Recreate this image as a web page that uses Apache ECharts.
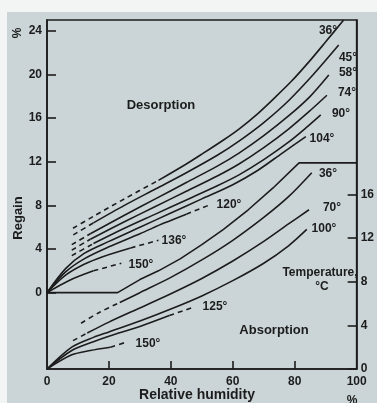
<!DOCTYPE html>
<html><head><meta charset="utf-8">
<script src="https://cdn.jsdelivr.net/npm/echarts@6/dist/echarts.min.js"></script>
<style>
html,body{margin:0;padding:0;background:#f3f5f4;width:377px;height:403px;overflow:hidden}
#c{position:absolute;left:7px;top:12px;width:370px;height:391px;background:#cbd5d8}
</style></head><body><div id="c"></div>
<script>
// ---- axes ----
const xTicks = [0, 20, 40, 60, 80, 100];
const leftTicks = [0, 4, 8, 12, 16, 20, 24];      // regain %, desorption scale
const rightTicks = [0, 4, 8, 12, 16];             // regain %, absorption scale

// ---- desorption curves [relative humidity %, regain %] ----
const des36Dashed  = [[8.4,5.9],[15,7.0],[25,8.6],[36,10.3]];
const des36Solid   = [[36,10.3],[45,11.8],[50,12.7],[57,14.0],[62,15.0],[68,16.4],[74,18.0],[79,19.4],[85,21.3],[90,23.0],[95.8,25.0]];
const des45Dashed  = [[8.5,5.3],[15,6.4]];
const des45Solid   = [[15,6.4],[25,8.0],[35,9.5],[45,11.0],[55,12.6],[62,13.9],[70,15.6],[78,17.6],[86,20.0],[94.2,22.7]];
const des58Dashed  = [[8,4.4],[14,5.4]];
const des58Solid   = [[14,5.4],[25,7.1],[35,8.6],[45,10.1],[55,11.6],[62,12.8],[70,14.4],[78,16.2],[85,18.0],[91,19.95]];
const des74Dashed  = [[8,3.9],[14,4.9]];
const des74Solid   = [[14,4.9],[25,6.5],[35,7.9],[45,9.3],[55,10.7],[62,11.8],[70,13.3],[78,15.0],[85,16.7],[90.4,18.1]];
const des90Dashed  = [[8,3.4],[15,4.5]];
const des90Solid   = [[15,4.5],[25,5.9],[35,7.2],[45,8.5],[55,9.8],[62,10.8],[70,12.2],[78,13.8],[84,15.2],[88.4,16.3]];
const des104Solid  = [[0,0],[6,2.2],[12,3.6],[20,4.7],[30,6.0],[40,7.3],[50,8.6],[60,9.9],[68,11.2],[76,12.8],[83.6,14.3]];
const des120Solid  = [[0,0],[6,1.9],[12,3.1],[20,4.2],[30,5.4],[38,6.4],[45,7.2]];
const des120Dashed = [[45,7.2],[53,8.1]];
const des136Solid  = [[0,0],[6,1.6],[12,2.6],[18,3.3],[27,4.1]];
const des136Dashed = [[27,4.1],[36,4.8]];
const des150Solid  = [[0,0],[7,1.1],[15,2.0]];
const des150Dashed = [[15,2.0],[24,2.7]];

// ---- boundary between the two diagrams (desorption scale) ----
const boundary = [[0,0],[22.8,0],[30,1.2],[36,2.0],[43,3.1],[50,4.4],[57,5.8],[65,7.6],[73,9.6],[81.4,11.9],[100,11.9]];

// ---- absorption curves [relative humidity %, regain %] (right scale) ----
const abs36Dashed  = [[11,4.2],[17,5.2],[23.5,6.1]];
const abs36Solid   = [[23.5,6.1],[30,7.0],[40,8.4],[50,10.0],[60,11.8],[70,13.9],[78,15.8],[85.5,18.0]];
const abs70Dashed  = [[8.4,2.6],[13,3.3]];
const abs70Solid   = [[13,3.3],[20,4.3],[30,5.6],[40,6.9],[50,8.3],[60,9.9],[70,11.7],[78,13.3],[84.6,14.6]];
const abs100Solid  = [[0,0],[8,2.0],[15,2.9],[20,3.4],[30,4.4],[40,5.5],[50,6.7],[60,8.1],[70,9.7],[78,11.3],[83.9,12.8]];
const abs125Solid  = [[0,0],[8,1.7],[15,2.5],[20,3.0],[30,3.9],[39.5,4.9]];
const abs125Dashed = [[39.5,4.9],[47.6,5.7]];
const abs150Solid  = [[0,0],[8,1.3],[14,1.7],[20.5,2.0]];
const abs150Dashed = [[20.5,2.0],[26,2.5]];

// ---- text annotations (page coordinates) ----
const annotations = [
  ['36°',328,31],['45°',348,58],['58°',348,73],['74°',347,93],['90°',341,114],['104°',322,139],
  ['120°',229,205],['136°',174,241],['150°',141,265],
  ['36°',328,174],['70°',332,208],['100°',324,229],['125°',215,307],['150°',148,344]
];

const INK = '#1c1c1c';
const FONT = '"Liberation Sans", Arial, sans-serif';
const OX = 7, OY = 12;

function line(data, dashed, yAxisIndex) {
  return {
    type: 'line', data: data, yAxisIndex: yAxisIndex || 0,
    showSymbol: false, symbol: 'none', smooth: 0.3, silent: true,
    lineStyle: { color: INK, width: 1.6, type: dashed ? [5, 4] : 'solid' }
  };
}

const series = [
  line(des36Dashed, true), line(des36Solid),
  line(des45Dashed, true), line(des45Solid),
  line(des58Dashed, true), line(des58Solid),
  line(des74Dashed, true), line(des74Solid),
  line(des90Dashed, true), line(des90Solid),
  line(des104Solid),
  line(des120Solid), line(des120Dashed, true),
  line(des136Solid), line(des136Dashed, true),
  line(des150Solid), line(des150Dashed, true),
  Object.assign(line(boundary), { smooth: false }),
  line(abs36Dashed, true, 1), line(abs36Solid, false, 1),
  line(abs70Dashed, true, 1), line(abs70Solid, false, 1),
  line(abs100Solid, false, 1),
  line(abs125Solid, false, 1), line(abs125Dashed, true, 1),
  line(abs150Solid, false, 1), line(abs150Dashed, true, 1)
];

function txt(t, x, y, size, rot) {
  return {
    type: 'text', x: x - OX, y: y - OY, rotation: rot || 0, silent: true,
    style: { text: t, fill: INK, font: 'bold ' + size + 'px ' + FONT, textAlign: 'center', textVerticalAlign: 'middle' }
  };
}

const graphics = annotations.map(a => txt(a[0], a[1], a[2], 12));
graphics.push(txt('Desorption', 161, 105, 13));
graphics.push(txt('Absorption', 274, 330, 13));
graphics.push(txt('Temperature,', 320, 273, 12));
graphics.push(txt('°C', 322, 287, 12));
graphics.push(txt('Regain', 18, 218, 13, Math.PI / 2));
graphics.push(txt('%', 18, 33, 12, Math.PI / 2));
graphics.push(txt('Relative humidity', 197, 395, 14));
graphics.push(txt('%', 352, 401, 12));

const chart = echarts.init(document.getElementById('c'), null, { renderer: 'canvas' });
chart.setOption({
  animation: false,
  backgroundColor: 'transparent',
  grid: { left: 40, top: 8, width: 311, height: 349, show: true, borderColor: INK, borderWidth: 1.6, backgroundColor: 'transparent' },
  xAxis: {
    type: 'value', min: 0, max: 100, interval: 20,
    axisLine: { onZero: false, lineStyle: { color: INK, width: 1.6 } },
    axisTick: { inside: true, length: 8, lineStyle: { color: INK, width: 1.6 }, customValues: xTicks.slice(1, -1) },
    axisLabel: { color: INK, fontSize: 12, fontWeight: 'bold', fontFamily: FONT, margin: 7, customValues: xTicks },
    splitLine: { show: false }
  },
  yAxis: [{
    type: 'value', min: -7, max: 25, position: 'left',
    axisLine: { show: true, onZero: false, lineStyle: { color: INK, width: 1.6 } },
    axisTick: { show: true, inside: true, length: 9, lineStyle: { color: INK, width: 1.6 }, customValues: leftTicks },
    axisLabel: { color: INK, fontSize: 12, fontWeight: 'bold', fontFamily: FONT, margin: 5, customValues: leftTicks },
    splitLine: { show: false }
  }, {
    type: 'value', min: 0, max: 32, position: 'right',
    axisLine: { show: true, onZero: false, lineStyle: { color: INK, width: 1.6 } },
    axisTick: { show: true, inside: true, length: 9, lineStyle: { color: INK, width: 1.6 }, customValues: rightTicks },
    axisLabel: { color: INK, fontSize: 12, fontWeight: 'bold', fontFamily: FONT, margin: 4, customValues: rightTicks },
    splitLine: { show: false }
  }],
  series: series,
  graphic: graphics
});
</script></body></html>
